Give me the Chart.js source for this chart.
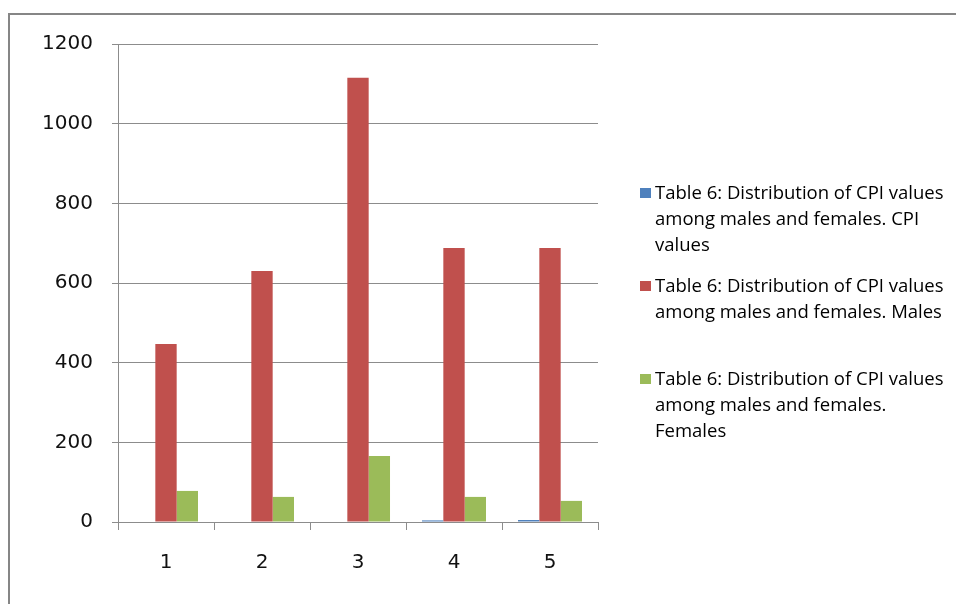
<!DOCTYPE html>
<html>
<head>
<meta charset="utf-8">
<script src="https://cdn.jsdelivr.net/npm/chart.js@4.4.1/dist/chart.umd.min.js"></script>
<style>
  html, body { margin: 0; padding: 0; background: #fff; }
  #wrap { width: 956px; height: 604px; position: relative; }
</style>
</head>
<body>
<div id="wrap"><canvas id="c" width="956" height="604"></canvas></div>
<script>
// Categories on the x axis
const categories = ['1', '2', '3', '4', '5'];

// Series values
const cpiValues = [0, 0, 0, 4, 5];
const males = [447, 630, 1115, 688, 688];
const females = [78, 63, 166, 63, 53];

// Y axis tick range
const yMin = 0;
const yMax = 1200;
const yStep = 200;

// Series names, and how each one wraps in the legend
const seriesNames = [
  'Table 6: Distribution of CPI values among males and females. CPI values',
  'Table 6: Distribution of CPI values among males and females. Males',
  'Table 6: Distribution of CPI values among males and females. Females'
];
const legendLines = [
  ['Table 6: Distribution of CPI values', 'among males and females. CPI', 'values'],
  ['Table 6: Distribution of CPI values', 'among males and females. Males'],
  ['Table 6: Distribution of CPI values', 'among males and females.', 'Females']
];

const colors = ['#4F81BD', '#C0504D', '#9BBB59'];
const axisGrey = '#8c8c8c';
const tickFont = { family: 'DejaVu Sans', size: 20 };

// Outer frame around the whole chart
const framePlugin = {
  id: 'frame',
  beforeDraw(chart) {
    const ctx = chart.ctx;
    ctx.save();
    ctx.fillStyle = '#fff';
    ctx.fillRect(0, 0, chart.width, chart.height);
    ctx.strokeStyle = '#868686';
    ctx.lineWidth = 2;
    ctx.strokeRect(9, 14, chart.width + 20, chart.height + 20);
    ctx.restore();
  }
};

// Legend on the right with wrapped series names
const sideLegend = {
  id: 'sideLegend',
  afterDraw(chart) {
    const ctx = chart.ctx;
    ctx.save();
    ctx.font = '18.5px "Open Sans"';
    ctx.textBaseline = 'alphabetic';
    ctx.textAlign = 'left';
    const firstBaselines = [199, 292, 385];
    const lineH = 26;
    chart.data.datasets.forEach((ds, i) => {
      const base = firstBaselines[i];
      ctx.fillStyle = ds.backgroundColor;
      ctx.fillRect(640, base - 11, 11, 10);
      ctx.fillStyle = '#000';
      legendLines[i].forEach((line, j) => {
        ctx.fillText(line, 655, base + j * lineH);
      });
    });
    ctx.restore();
  }
};

new Chart(document.getElementById('c'), {
  type: 'bar',
  data: {
    labels: categories,
    datasets: [
      { label: seriesNames[0], data: cpiValues, backgroundColor: colors[0] },
      { label: seriesNames[1], data: males, backgroundColor: colors[1] },
      { label: seriesNames[2], data: females, backgroundColor: colors[2] }
    ]
  },
  options: {
    responsive: false,
    animation: false,
    devicePixelRatio: 1,
    layout: { padding: { left: 0, top: 44, right: 358, bottom: 0 } },
    datasets: { bar: { categoryPercentage: 0.667, barPercentage: 1.0, borderWidth: 0 } },
    plugins: { legend: { display: false }, tooltip: { enabled: false } },
    scales: {
      x: {
        offset: true,
        grid: { display: true, drawOnChartArea: false, drawTicks: true, tickLength: 8, color: axisGrey, offset: true },
        border: { display: true, color: axisGrey, width: 1 },
        ticks: { font: tickFont, color: '#111', padding: 21 },
        afterFit(scale) { scale.height = 82; }
      },
      y: {
        min: yMin,
        max: yMax,
        ticks: {
          stepSize: yStep,
          font: tickFont,
          color: '#111',
          padding: 19,
          callback: (v) => String(v)
        },
        grid: { color: axisGrey, tickLength: 6, drawTicks: true },
        border: { display: true, color: axisGrey, width: 1 },
        afterFit(scale) { scale.width = 118; }
      }
    }
  },
  plugins: [framePlugin, sideLegend]
});
</script>
</body>
</html>
